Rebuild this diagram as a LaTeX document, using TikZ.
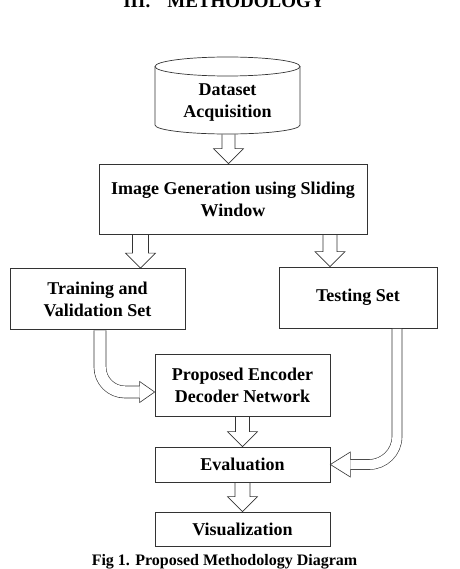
\documentclass[tikz,border=0pt]{standalone}
\usepackage{fontspec}
\setmainfont{Liberation Serif}
\usetikzlibrary{calc}

\tikzset{
  box/.style={draw=black!80, line width=0.7pt, align=center, inner sep=0pt,
    font=\bfseries\fontsize{18}{22}\selectfont},
  shaft/.style={draw=black!80, double=white, double distance=#1, line width=0.6pt},
  shaft/.default=13.4pt,
  headline/.style={draw=black!80, line width=0.6pt, line join=miter},
}

\begin{document}
\begin{tikzpicture}[x=1pt, y=-1pt]
    \useasboundingbox (0,0) rectangle (459,569);

    % Heading and caption
    \node[font=\bfseries\fontsize{19}{22}\selectfont, anchor=base] (title) at (224,8) {III.\hspace{0.9em}METHODOLOGY};
    \node[font=\bfseries\fontsize{16}{20}\selectfont, anchor=base] (caption) at (224.5,565.5) {Fig 1. Proposed Methodology Diagram};

    % Dataset cylinder
    \draw[draw=black!80, line width=0.7pt] (227.5,66.5) ellipse [x radius=72.5pt, y radius=9.5pt];
    \draw[draw=black!80, line width=0.7pt] (155,66.5) -- (155,125)
        arc[start angle=180, end angle=360, x radius=72.5pt, y radius=9pt] -- (300,66.5);
    \node[box, draw=none] (data) at (227.5,103) {Dataset\\Acquisition};
    \coordinate (databot) at (228.5,134.5);

    % Boxes
    \node[box, minimum width=268, minimum height=70] (img) at (233,199) {Image Generation using Sliding\\Window};
    \node[box, minimum width=175, minimum height=61] (train) at (97.5,299) {Training and\\Validation Set};
    \node[box, minimum width=158, minimum height=61] (test) at (358,297.5) {Testing Set};
    \node[box, minimum width=175, minimum height=62] (enc) at (242.5,385) {Proposed Encoder\\Decoder Network};
    \node[box, minimum width=175, minimum height=35] (eval) at (242.5,464.5) {Evaluation};
    \node[box, minimum width=175, minimum height=34] (vis) at (242.5,529) {Visualization};

    % Arrow columns, starts and tips
    \coordinate (leftcol) at (140.5,0);
    \coordinate (rightcol) at (330,0);
    \coordinate (traincol) at (100,0);
    \coordinate (testcol) at (397,0);
    \coordinate (s2) at (img.south -| leftcol);
    \coordinate (s3) at (img.south -| rightcol);
    \coordinate (s4) at (enc.south);
    \coordinate (s5) at (eval.south);
    \coordinate (t1) at (img.north -| databot);
    \coordinate (t2) at (train.north -| leftcol);
    \coordinate (t3) at (test.north -| rightcol);
    \coordinate (t4) at (eval.north);
    \coordinate (t5) at (vis.north);
    \coordinate (t6) at ($(enc.west)+(0,7)$);
    \coordinate (t7) at (eval.east);

    % Straight hollow arrows
    \foreach \s/\t/\w in {databot/t1/6.5, s2/t2/8, s3/t3/7, s4/t4/7, s5/t5/7.5}
        \draw[headline] ($(\s)+(-\w,0)$) -- ($(\t)+(-\w,-15)$) -- ($(\t)+(-15,-15)$) -- (\t)
            -- ($(\t)+(15,-15)$) -- ($(\t)+(\w,-15)$) -- ($(\s)+(\w,0)$);

    % Bent hollow arrows
    \draw[shaft=11.4pt, rounded corners=25pt] ($(train.south -| traincol)+(0,0.4)$) |- ($(t6)+(-15,0)$);
    \draw[headline] ($(t6)+(-15,-6)$) -- ($(t6)+(-15,-10.5)$) -- (t6) -- ($(t6)+(-15,10.5)$) -- ($(t6)+(-15,6)$);
    \draw[shaft=9.4pt, rounded corners=28pt] ($(test.south -| testcol)+(0,0.4)$) |- ($(t7)+(20,0)$);
    \draw[headline] ($(t7)+(20,-5)$) -- ($(t7)+(20,-12.5)$) -- (t7) -- ($(t7)+(20,12.5)$) -- ($(t7)+(20,5)$);
\end{tikzpicture}
\end{document}
